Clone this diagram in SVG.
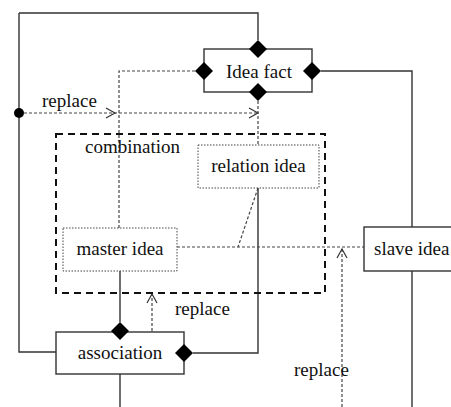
<svg xmlns="http://www.w3.org/2000/svg" width="451" height="407" viewBox="0 0 451 407">
<style>
text{font-family:'Liberation Serif','Times New Roman',serif;font-size:19px;fill:#111}
.solid{fill:none;stroke:#333;stroke-width:1.4}
.dash{fill:none;stroke:#444;stroke-width:1.2;stroke-dasharray:3,2}
.box{stroke:#333;stroke-width:1.4}
.dot{stroke:#444;stroke-width:1;stroke-dasharray:1.5,1.5}
.comb{fill:none;stroke:#111;stroke-width:2;stroke-dasharray:7,5}
.dia{fill:#000}
.arr{fill:none;stroke:#333;stroke-width:1.2}
</style>
<defs>
<path id="d" class="dia" d="M0,-9 L9,0 L0,9 L-9,0 Z"/>
</defs>
<g id="connectors">
<path class="solid" d="M19,13 H258 V40"/>
<path class="solid" d="M19,13 V352 H56"/>
<path class="solid" d="M321,71 H412 V227"/>
<path class="solid" d="M412,271 V407"/>
<path class="solid" d="M258,188 V353 H193"/>
<path class="solid" d="M120,271 V322"/>
<path class="solid" d="M120,374 V407"/>
<path class="dash" d="M195,71 H119 V228"/>
<path class="dash" d="M24,113 H258"/>
<path class="arr" d="M106,108 L115,113 L106,118"/>
<path class="arr" d="M249,108 L258,113 L249,118"/>
<path class="dash" d="M258,101 V145"/>
<path class="dash" d="M258,188 L238,247"/>
<path class="dash" d="M177,247 H364"/>
<path class="dash" d="M152,331 V294"/>
<path class="arr" d="M147,303 L152,294 L157,303"/>
<path class="dash" d="M342,407 V249"/>
<path class="arr" d="M337,258 L342,249 L347,258"/>
<circle cx="19" cy="113" r="5" fill="#000"/>
</g>
<g id="combination">
<rect class="comb" x="56" y="134" width="269" height="159"/>
<text x="85" y="153">combination</text>
</g>
<g id="idea-fact">
<rect class="box" x="204" y="49" width="108" height="43" fill="#fff"/>
<text x="259" y="78" text-anchor="middle">Idea fact</text>
<use href="#d" x="258" y="49"/>
<use href="#d" x="204" y="71"/>
<use href="#d" x="312" y="71"/>
<use href="#d" x="258" y="92"/>
</g>
<g id="relation-idea">
<rect class="dot" x="198" y="145" width="121" height="43" fill="#fff"/>
<text x="258.5" y="172" text-anchor="middle">relation idea</text>
</g>
<g id="master-idea">
<rect class="dot" x="63" y="228" width="114" height="43" fill="#fff"/>
<text x="120" y="255" text-anchor="middle">master idea</text>
</g>
<g id="slave-idea">
<rect class="box" x="364" y="227" width="100" height="44" fill="#fff"/>
<text x="374" y="255">slave idea</text>
</g>
<g id="association">
<rect class="box" x="56" y="332" width="128" height="42" fill="#fff"/>
<text x="120" y="359" text-anchor="middle">association</text>
<use href="#d" x="120" y="331"/>
<use href="#d" x="184" y="353"/>
</g>
<g id="labels">
<text x="42" y="107">replace</text>
<text x="175" y="315">replace</text>
<text x="294" y="376">replace</text>
</g>
</svg>
